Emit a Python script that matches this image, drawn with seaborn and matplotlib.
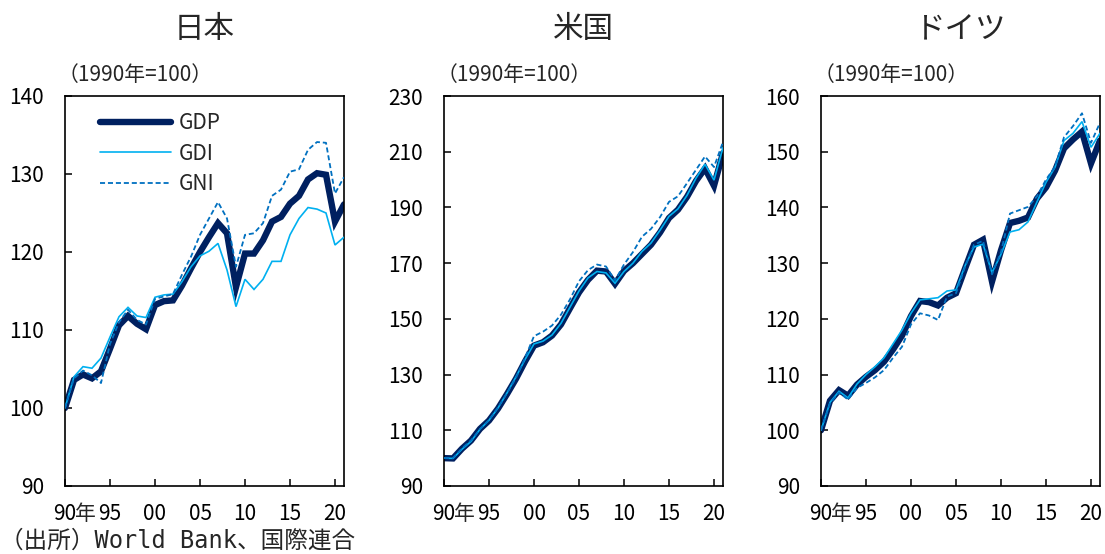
import numpy as np
import pandas as pd
import matplotlib
matplotlib.use("Agg")
import matplotlib.pyplot as plt
import seaborn as sns

# ---- data (1990 = 100) ----
years = list(range(1990, 2022))

jp_gdp = [100.0, 103.6, 104.3, 103.8, 104.7, 107.6, 110.6, 111.8, 110.8, 110.1,
          113.2, 113.7, 113.8, 115.7, 117.9, 120.0, 121.9, 123.7, 122.4, 115.5,
          119.8, 119.8, 121.5, 123.9, 124.5, 126.2, 127.2, 129.3, 130.1, 129.9,
          123.9, 126.1]
jp_gdi = [100.0, 104.0, 105.3, 105.1, 106.4, 109.1, 111.7, 112.9, 111.8, 111.6,
          114.2, 114.5, 114.6, 116.2, 118.1, 119.5, 120.1, 121.1, 117.7, 113.0,
          116.5, 115.2, 116.5, 118.8, 118.8, 122.2, 124.3, 125.7, 125.5, 125.0,
          120.9, 121.9]
jp_gni = [100.0, 103.8, 104.8, 104.2, 103.2, 108.2, 111.0, 112.6, 111.3, 110.7,
          114.0, 114.3, 114.6, 117.1, 119.4, 122.2, 124.3, 126.4, 124.3, 118.1,
          122.2, 122.4, 123.7, 127.2, 128.0, 130.3, 130.6, 133.1, 134.1, 134.0,
          127.5, 129.6]

us_gdp = [100.0, 99.9, 103.4, 106.3, 110.5, 113.5, 117.8, 123.0, 128.5, 134.7,
          140.4, 141.6, 144.0, 148.0, 153.8, 159.5, 164.0, 167.3, 167.0, 162.6,
          167.2, 170.0, 173.3, 176.6, 181.0, 186.2, 189.2, 193.8, 199.5, 204.0,
          197.8, 209.5]
us_gdi = [100.0, 99.9, 103.2, 106.0, 110.4, 113.6, 118.0, 123.4, 129.2, 135.4,
          141.0, 142.0, 144.2, 148.4, 154.2, 160.0, 164.7, 167.0, 166.5, 162.8,
          167.0, 170.0, 174.2, 177.2, 181.8, 186.8, 189.5, 194.3, 200.5, 205.5,
          199.8, 211.5]
us_gni = [100.0, 100.1, 103.5, 106.4, 110.4, 113.7, 118.2, 123.3, 128.8, 136.0,
          143.8, 145.4, 147.6, 151.5, 157.0, 163.5, 167.5, 169.5, 168.8, 163.8,
          169.5, 174.0, 179.5, 182.3, 186.5, 192.0, 194.0, 198.7, 203.5, 208.3,
          204.5, 213.5]

de_gdp = [100.0, 105.3, 107.2, 106.2, 108.2, 109.6, 110.8, 112.3, 114.5, 117.0,
          120.5, 123.2, 123.0, 122.4, 123.8, 124.6, 129.0, 133.3, 134.2, 126.7,
          132.3, 137.2, 137.6, 138.2, 141.6, 143.6, 146.6, 150.6, 152.2, 153.6,
          147.9, 152.0]
de_gdi = [100.0, 105.0, 107.0, 105.8, 108.3, 110.0, 111.4, 113.0, 115.5, 118.0,
          121.0, 123.4, 123.6, 123.8, 125.0, 125.2, 129.5, 132.9, 133.4, 128.3,
          131.6, 135.6, 136.0, 137.4, 141.0, 144.5, 147.2, 152.0, 153.3, 155.4,
          150.8, 153.3]
de_gni = [100.0, 104.8, 106.8, 105.5, 107.6, 108.5, 109.5, 110.8, 113.0, 115.0,
          119.0, 121.0, 120.6, 119.8, 124.0, 124.6, 129.3, 133.3, 134.0, 128.0,
          132.0, 138.9, 139.5, 140.1, 142.0, 145.0, 147.3, 152.6, 154.6, 156.9,
          151.6, 155.2]

countries = ["日本", "米国", "ドイツ"]
series_names = ["GDP", "GDI", "GNI"]
y_limits = [(90, 140), (90, 230), (90, 160)]
y_steps = [10, 20, 10]
x_tick_years = [1990, 1995, 2000, 2005, 2010, 2015, 2020]
x_tick_labels = ["90", "95", "00", "05", "10", "15", "20"]
year_suffix = "年"
unit_label = "（1990年=100）"
source_note = "（出所）World Bank、国際連合"

panel_values = [
    (jp_gdp, jp_gdi, jp_gni),
    (us_gdp, us_gdi, us_gni),
    (de_gdp, de_gdi, de_gni),
]

# ---- styling ----
sns.set_style("white")
plt.rcParams["font.family"] = ["Noto Sans CJK JP", "DejaVu Sans"]
plt.rcParams["axes.unicode_minus"] = False

line_styles = {
    "GDP": dict(color="#002060", linewidth=4.6, zorder=2),
    "GDI": dict(color="#00B0F0", linewidth=1.2, zorder=3),
    "GNI": dict(color="#0070C0", linewidth=1.3, zorder=4, dashes=(2.8, 1.6)),
}

TICK_FS = 15
Y_PAD = 15
X_PAD = 12

W, H = 1105, 554
fig = plt.figure(figsize=(W / 100, H / 100), dpi=100)

ax_left_px = [65, 444, 821]
ax_width_px = 279
ax_top_px, ax_bottom_px = 96, 486

for i, country in enumerate(countries):
    left = ax_left_px[i] / W
    bottom = 1 - ax_bottom_px / H
    ax = fig.add_axes([left, bottom, ax_width_px / W, (ax_bottom_px - ax_top_px) / H])

    gdp, gdi, gni = panel_values[i]
    df = pd.DataFrame({
        "year": years * 3,
        "value": gdp + gdi + gni,
        "series": ["GDP"] * len(years) + ["GDI"] * len(years) + ["GNI"] * len(years),
    })

    for name in series_names:
        st = dict(line_styles[name])
        dashes = st.pop("dashes", None)
        sub = df[df["series"] == name]
        sns.lineplot(data=sub, x="year", y="value", ax=ax, label=name,
                     solid_joinstyle="miter", **st)
        if dashes is not None:
            ax.lines[-1].set_dashes(dashes)

    lo, hi = y_limits[i]
    ax.set_xlim(1990, 2021)
    ax.set_ylim(lo, hi)
    ax.set_yticks(np.arange(lo, hi + 1, y_steps[i]))
    ax.set_xticks(x_tick_years)
    ax.set_xticklabels(x_tick_labels)
    ax.set_xlabel("")
    ax.set_ylabel("")

    ax.tick_params(axis="y", direction="in", length=5, width=1.1,
                   labelsize=TICK_FS, colors="black", pad=Y_PAD,
                   left=True, right=False)
    ax.tick_params(axis="x", direction="in", length=5, width=1.1,
                   labelsize=TICK_FS, colors="black", pad=X_PAD,
                   bottom=True, top=False)

    # 年 trails the first year label
    ax.annotate(year_suffix, xy=(1992.3, 0), xycoords=("data", "axes fraction"),
                xytext=(0, -X_PAD), textcoords="offset points",
                ha="center", va="top", fontsize=TICK_FS)

    for sp in ax.spines.values():
        sp.set_visible(True)
        sp.set_color("black")
        sp.set_linewidth(1.2)

    ax.text(-7 / ax_width_px, 1 + 21 / (ax_bottom_px - ax_top_px), unit_label,
            transform=ax.transAxes, ha="left", va="center", fontsize=TICK_FS)

    fig.text((ax_left_px[i] + ax_width_px / 2) / W, 1 - 30 / H, country,
             ha="center", va="center", fontsize=22)

    if i == 0:
        ax.legend(loc="upper left", bbox_to_anchor=(0.08, 0.99),
                  frameon=False, fontsize=TICK_FS, handlelength=3.4,
                  handletextpad=0.4, labelspacing=0.4, borderaxespad=0.2)
    elif ax.get_legend() is not None:
        ax.get_legend().remove()

fig.text(0.0, 1 - 541 / H, source_note, ha="left", va="center", fontsize=17,
         family=["DejaVu Sans Mono", "Noto Sans CJK JP"])

fig.savefig("out.png", dpi=100)
